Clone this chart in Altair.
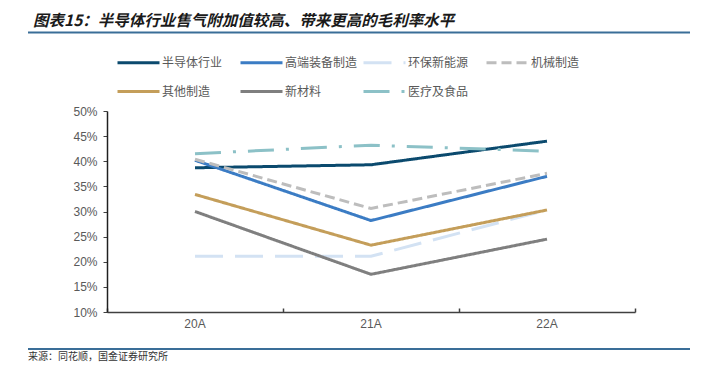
import altair as alt
import pandas as pd

years = ["20A", "21A", "22A"]
series = ["半导体行业", "高端装备制造", "环保新能源", "机械制造", "其他制造", "新材料", "医疗及食品"]
semis = [38.7, 39.3, 44.0]
high_end = [40.2, 28.2, 37.0]
green_energy = [21.1, 21.1, 30.3]
machinery = [40.4, 30.6, 37.6]
other_mfg = [33.4, 23.3, 30.3]
new_material = [30.0, 17.5, 24.5]
medical_food = [41.5, 43.2, 42.0]
values = [semis, high_end, green_energy, machinery, other_mfg, new_material, medical_food]

colors = ["#0B4A6E", "#3B7CC4", "#D3E2F3", "#BDBDBD", "#C49E5A", "#7F7F7F", "#8CC1C7"]
dashes = [[1, 0], [1, 0], [28, 12], [10, 5], [1, 0], [1, 0], [26, 12, 3, 12]]

title_text = "图表15：半导体行业售气附加值较高、带来更高的毛利率水平"
source_text = "来源：同花顺，国金证券研究所"

rows = []
for name, vals in zip(series, values):
    for y, v in zip(years, vals):
        rows.append({"year": y, "series": name, "value": v / 100})
df = pd.DataFrame(rows)

CJK = "Noto Sans CJK SC"

legend = alt.Legend(
    title=None, orient="none", legendX=9, legendY=-71, columns=4, direction="horizontal",
    symbolType="stroke", symbolSize=1764, symbolStrokeWidth=3,
    labelFont=CJK, labelFontSize=12, labelColor="#595959", labelOffset=1,
    columnPadding=-1, rowPadding=-6, gridAlign="all", labelLimit=200,
)

y_enc = alt.Y("value:Q", title=None,
              scale=alt.Scale(domain=[0.1, 0.5], nice=False, zero=False),
              axis=alt.Axis(format=".0%", values=[0.1, 0.15, 0.2, 0.25, 0.3, 0.35, 0.4, 0.45, 0.5],
                            grid=False, domainColor="#202020", domainWidth=1.5, tickColor="#404040",
                            tickSize=4, labelPadding=6, labelFont="Liberation Sans",
                            labelFontSize=12, labelColor="#595959"))

x_main = alt.X("year:N", sort=years, title=None,
               scale=alt.Scale(paddingInner=0, paddingOuter=0),
               axis=alt.Axis(orient="bottom", labelAngle=0, ticks=False, domainColor="#404040",
                             domainWidth=1.5, labelFont="Liberation Sans", labelFontSize=12,
                             labelColor="#595959", labelPadding=6))

lines = alt.Chart(df).mark_line(strokeWidth=3).encode(
    x=x_main,
    y=y_enc,
    color=alt.Color("series:N", scale=alt.Scale(domain=series, range=colors), legend=legend),
    strokeDash=alt.StrokeDash("series:N", scale=alt.Scale(domain=series, range=dashes), legend=legend),
)

ticks_layer = alt.Chart(df).mark_point(opacity=0).encode(
    x=alt.X("year:N", sort=years, title=None,
            axis=alt.Axis(orient="bottom", labels=False, domain=False, ticks=True, tickBand="extent",
                          tickSize=4, tickColor="#404040", tickWidth=1.5, offset=-4)),
    y=y_enc,
)

one = pd.DataFrame({"t": [0]})
title_mark = alt.Chart(pd.DataFrame({"t": [title_text]})).mark_text(
    font=CJK, fontSize=15.5, fontStyle="italic", fontWeight="bold", color="#1a1a1a",
    align="left", baseline="middle").encode(
    text="t:N", x=alt.value(33 - 107), y=alt.value(21 - 111))

source_mark = alt.Chart(pd.DataFrame({"t": [source_text]})).mark_text(
    font=CJK, fontSize=10, color="#333333", align="left", baseline="top").encode(
    text="t:N", x=alt.value(28 - 107), y=alt.value(352 - 111))

top_rule = alt.Chart(one).mark_rule(color="#3A6E98", strokeWidth=2).encode(
    x=alt.value(28 - 107), x2=alt.value(690 - 107), y=alt.value(32.5 - 111))
bottom_rule = alt.Chart(one).mark_rule(color="#3A6E98", strokeWidth=2).encode(
    x=alt.value(28 - 107), x2=alt.value(690 - 107), y=alt.value(349 - 111))

chart = alt.layer(lines, ticks_layer, title_mark, source_mark, top_rule, bottom_rule).resolve_axis(
    x="independent"
).properties(
    width=528, height=201,
    autosize=alt.AutoSizeParams(type="none"),
    padding={"left": 99, "top": 103, "right": 58, "bottom": 51},
).configure_view(stroke=None)

chart.save("out.html", embed_options={"renderer": "svg", "actions": False})
